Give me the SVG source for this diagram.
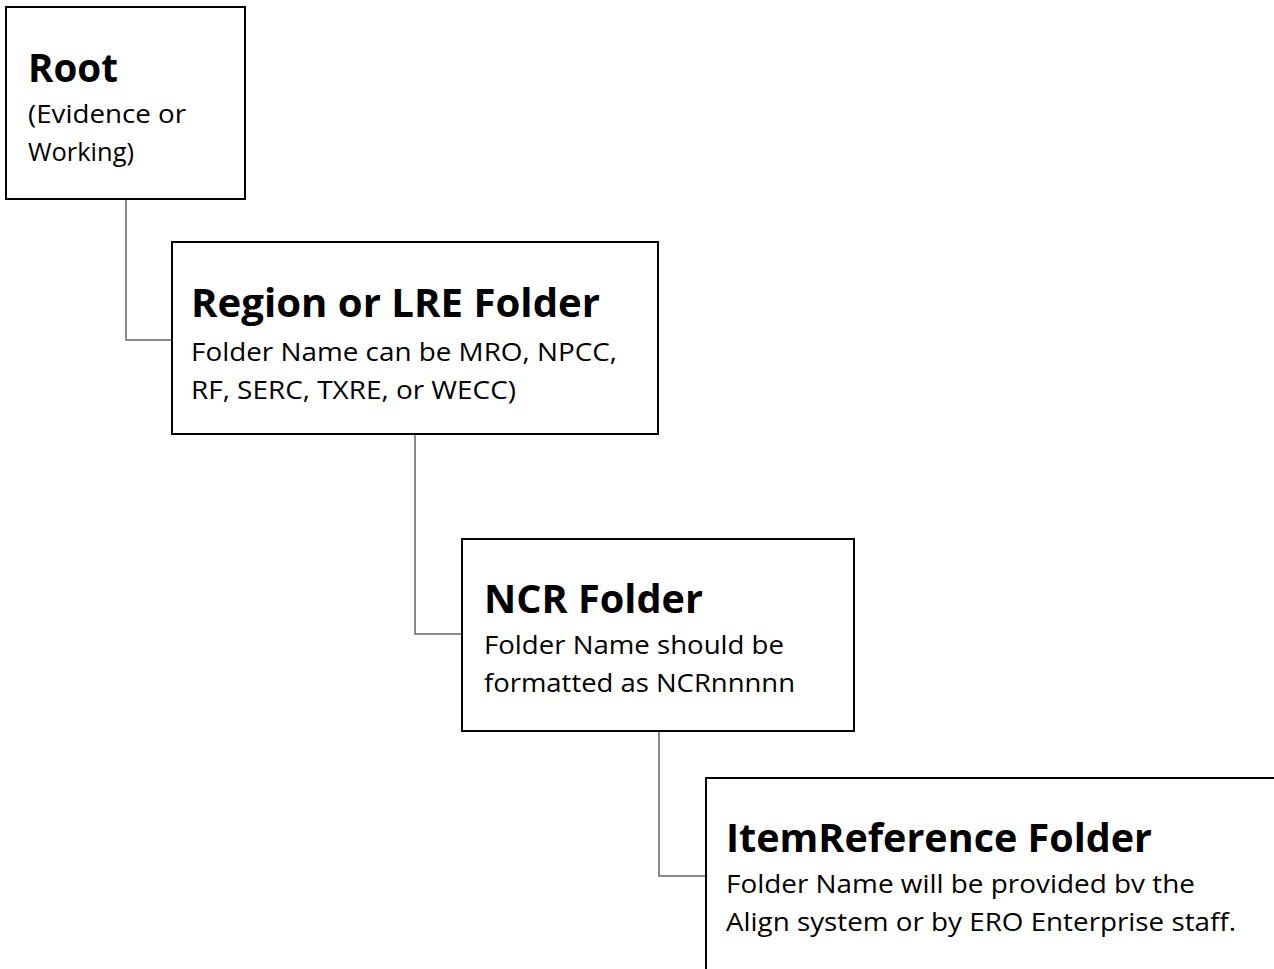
<svg xmlns="http://www.w3.org/2000/svg" width="1274" height="969" viewBox="0 0 1274 969">
<style>
.box{fill:#fff;stroke:#000;stroke-width:2}
.conn{fill:none;stroke:#666;stroke-width:1.5}
.t{font-family:"Open Sans","Noto Sans","Liberation Sans",sans-serif;font-weight:bold;font-size:39px;fill:#000}
.b{font-family:"Open Sans","Noto Sans","Liberation Sans",sans-serif;font-size:26px;fill:#000}
</style>
<rect width="1274" height="969" fill="#fff"/>
<g id="connectors">
<path class="conn" d="M126 199 V340 H172"/>
<path class="conn" d="M415 434 V634 H462"/>
<path class="conn" d="M659 731 V876 H706"/>
</g>
<g id="root">
<rect class="box" x="6" y="7" width="239" height="192"/>
<text class="t" x="28" y="82" textLength="90" lengthAdjust="spacingAndGlyphs">Root</text>
<text class="b" x="28" y="123" textLength="158" lengthAdjust="spacingAndGlyphs">(Evidence or</text>
<text class="b" x="28" y="161" textLength="106" lengthAdjust="spacingAndGlyphs">Working)</text>
</g>
<g id="region">
<rect class="box" x="172" y="242" width="486" height="192"/>
<text class="t" x="191" y="317" textLength="409" lengthAdjust="spacingAndGlyphs">Region or LRE Folder</text>
<text class="b" x="191" y="361" textLength="426" lengthAdjust="spacingAndGlyphs">Folder Name can be MRO, NPCC,</text>
<text class="b" x="191" y="399" textLength="325" lengthAdjust="spacingAndGlyphs">RF, SERC, TXRE, or WECC)</text>
</g>
<g id="ncr">
<rect class="box" x="462" y="539" width="392" height="192"/>
<text class="t" x="484" y="613" textLength="219" lengthAdjust="spacingAndGlyphs">NCR Folder</text>
<text class="b" x="484" y="654" textLength="300" lengthAdjust="spacingAndGlyphs">Folder Name should be</text>
<text class="b" x="484" y="692" textLength="311" lengthAdjust="spacingAndGlyphs">formatted as NCRnnnnn</text>
</g>
<g id="itemref">
<rect class="box" x="706" y="778" width="620" height="260"/>
<text class="t" x="726" y="852" textLength="426" lengthAdjust="spacingAndGlyphs">ItemReference Folder</text>
<text class="b" x="726" y="893" textLength="469" lengthAdjust="spacingAndGlyphs">Folder Name will be provided bv the</text>
<text class="b" x="726" y="931" textLength="510" lengthAdjust="spacingAndGlyphs">Align system or by ERO Enterprise staff.</text>
</g>
</svg>
